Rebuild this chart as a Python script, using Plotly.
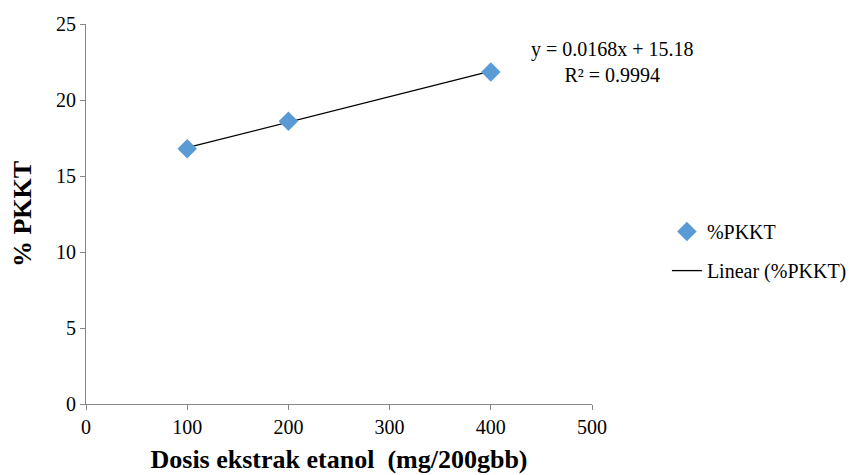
import plotly.graph_objects as go

doses = [100, 200, 400]
pkkt = [16.8, 18.6, 21.85]
slope = 0.0168
intercept = 15.18
r2 = 0.9994
x_ticks = [0, 100, 200, 300, 400, 500]
y_ticks = [0, 5, 10, 15, 20, 25]

fit_x = [min(doses), max(doses)]
fit_y = [slope * v + intercept for v in fit_x]

font_family = "Liberation Serif"

fig = go.Figure()
fig.add_trace(go.Scatter(
    x=fit_x, y=fit_y, mode="lines", name="Linear (%PKKT)",
    line=dict(color="black", width=1.3), legendrank=2, legendgroup="b"))
fig.add_trace(go.Scatter(
    x=doses, y=pkkt, mode="markers", name="%PKKT",
    marker=dict(symbol="diamond", size=15, color="#5B9BD5"),
    legendrank=1, legendgroup="a"))

fig.add_annotation(
    x=1.04, y=1.0, xref="paper", yref="paper",
    text=f"y = {slope}x + {intercept}<br>R² = {r2}",
    showarrow=False, xanchor="center", yanchor="top",
    font=dict(family=font_family, size=20, color="black"),
    yshift=-12)

tickfont = dict(family=font_family, size=20, color="black")

fig.update_layout(
    width=857, height=475,
    margin=dict(l=78, r=273, t=16, b=79),
    paper_bgcolor="white", plot_bgcolor="white",
    font=dict(family=font_family, size=20, color="black"),
    showlegend=True,
    legend=dict(x=1.148, y=0.505, xanchor="left", yanchor="top",
                font=dict(family=font_family, size=20, color="black"),
                tracegroupgap=10, bgcolor="rgba(0,0,0,0)"),
    xaxis=dict(range=[0, 500], tickvals=x_ticks, showgrid=False, zeroline=False,
               showline=True, linecolor="#868686", linewidth=1,
               ticks="outside", ticklen=5, tickcolor="#868686",
               tickfont=tickfont, automargin=False,
               title=dict(text="<b>Dosis ekstrak etanol\u00a0 (mg/200gbb)</b>",
                          font=dict(family=font_family, size=26), standoff=12)),
    yaxis=dict(range=[0, 25], tickvals=y_ticks, showgrid=False, zeroline=False,
               showline=True, linecolor="#868686", linewidth=1,
               ticks="outside", ticklen=5, tickcolor="#868686",
               tickfont=tickfont, automargin=False,
               title=dict(text="<b>% PKKT</b>",
                          font=dict(family=font_family, size=26), standoff=18)),
)

fig.write_html("out.html")
